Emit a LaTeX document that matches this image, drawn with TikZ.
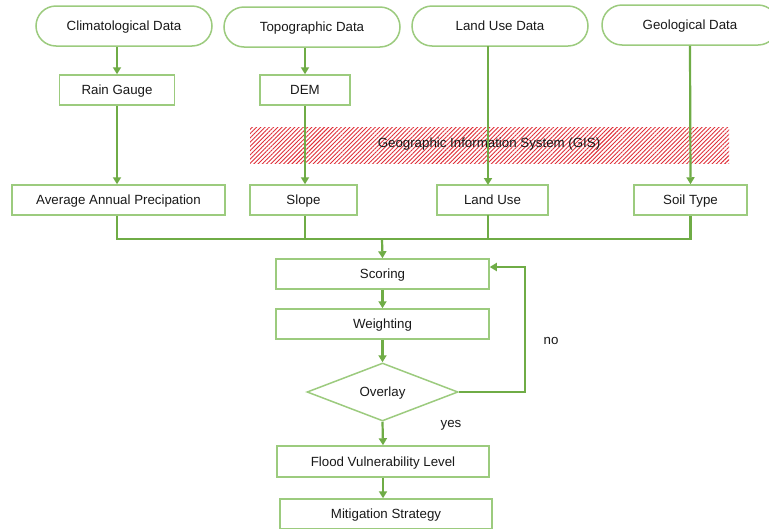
\documentclass[tikz,border=0pt]{standalone}
\usepackage{fontspec}
\setmainfont{Liberation Sans}
\usetikzlibrary{arrows.meta,shapes.geometric,patterns.meta}
\definecolor{gline}{HTML}{6FAC46}
\definecolor{gbox}{HTML}{9CCB7E}
\definecolor{hatchred}{HTML}{E0303A}
\begin{document}
\begin{tikzpicture}[x=1pt,y=-1pt,
  every node/.style={font=\fontsize{13.3}{15}\selectfont, text=black!90, text height=9.5pt, text depth=0pt},
  stadium/.style={draw=gbox, line width=1.5pt, rounded corners=20pt, minimum width=176pt, minimum height=40pt, inner sep=0pt},
  boxnode/.style={draw=gbox, line width=1.5pt, minimum height=30pt, inner sep=0pt},
  dia/.style={draw=gbox, line width=1.5pt, diamond, minimum width=151pt, minimum height=58pt, inner sep=0pt},
  flow/.style={draw=gline, line width=2.2pt, -{Triangle[width=8pt,length=7pt]}},
  wire/.style={draw=gline, line width=2.2pt}]
\useasboundingbox (0,0) rectangle (769,528);
\fill[white] (0,0) rectangle (769,528);
% GIS band
\node[minimum width=479pt, minimum height=36pt, inner sep=0pt,
  pattern={Lines[angle=45,distance=3pt,line width=0.9pt]}, pattern color=hatchred] (gis) at (489.5,145) {};
\node at (489,143) {Geographic Information System (GIS)};
% top stadiums
\node[stadium] (clim) at (124,26) {Climatological Data};
\node[stadium] (topo) at (312,27) {Topographic Data};
\node[stadium] (land) at (500,26) {Land Use Data};
\node[stadium] (geo) at (690,25) {Geological Data};
% second row
\node[boxnode, minimum width=115pt] (rain) at (117,90) {Rain Gauge};
\node[boxnode, minimum width=90pt] (dem) at (305,90) {DEM};
% third row
\node[boxnode, minimum width=213pt] (avg) at (118.5,200) {Average Annual Precipation};
\node[boxnode, minimum width=107pt] (slope) at (303.5,200) {Slope};
\node[boxnode, minimum width=111pt] (luse) at (492.5,200) {Land Use};
\node[boxnode, minimum width=113pt] (soil) at (690.5,200) {Soil Type};
% process
\node[boxnode, minimum width=213pt] (score) at (382.5,274) {Scoring};
\node[boxnode, minimum width=213pt] (weight) at (382.5,324) {Weighting};
\node[dia] (over) at (382.5,392) {Overlay};
\node[boxnode, minimum width=212pt, minimum height=31pt] (flood) at (383,461.5) {Flood Vulnerability Level};
\node[boxnode, minimum width=212pt] (mit) at (386,514) {Mitigation Strategy};
% labels
\node (no) at (551,340) {no};
\node (yes) at (451,423) {yes};
% connectors
\draw[flow] (clim.south -| rain.north) -- (rain.north);
\draw[flow] (rain.south) -- (rain.south |- avg.north);
\draw[flow] (dem.north |- topo.south) -- (dem.north);
\draw[flow] (dem.south) -- (dem.south |- slope.north);
\draw[flow] (488,46) -- (488,185);
\coordinate (bus) at (382,239);
\draw[wire, line join=miter] (rain.south |- avg.south) -- (rain.south |- bus) -- (soil.south |- bus) -- (soil.south);
\draw[wire] (dem.south |- slope.south) -- (dem.south |- bus);
\draw[wire] (488,215) -- (488,239);
\draw[flow] (geo.south) -- (soil.north);
\draw[flow] (bus) -- (score.north);
\draw[flow] (score.south) -- (weight.north);
\draw[flow] (weight.south) -- (over.north);
\draw[flow] (over.south) -- (flood.north);
\draw[flow] (flood.south) -- (mit.north -| flood.south);
\draw[flow] (over.east) -- (525,392) -- (525,267) -- (score.east |- 0,267);
\end{tikzpicture}
\end{document}
